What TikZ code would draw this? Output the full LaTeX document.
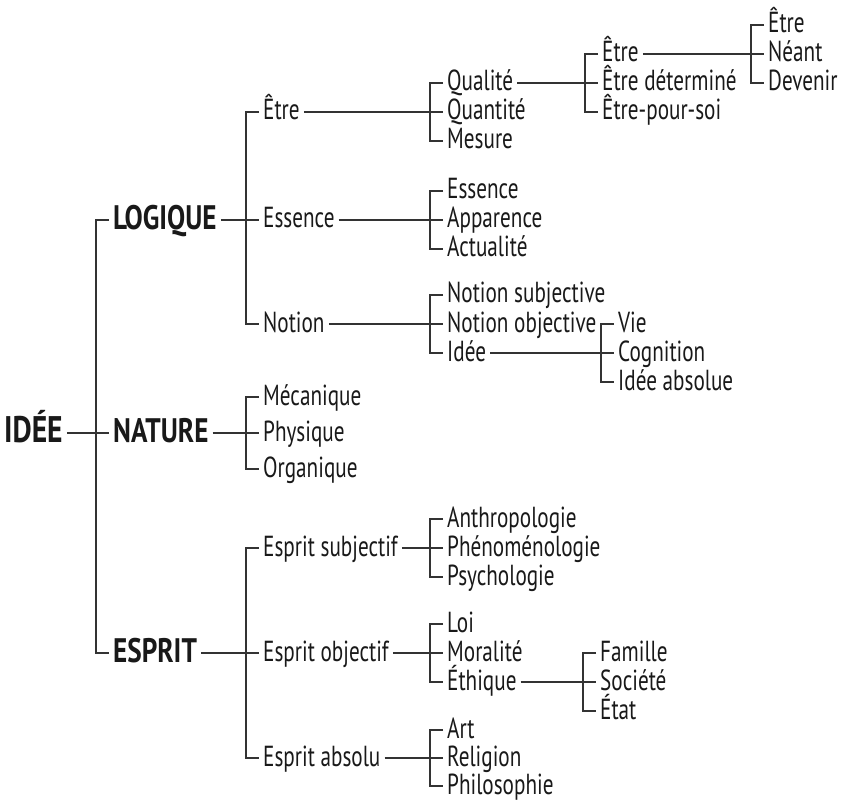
\documentclass[tikz,border=0pt]{standalone}
\usepackage{fontspec}
\setmainfont{PT Sans}[FakeStretch=0.73, BoldFeatures={FakeStretch=0.80}]
\usetikzlibrary{math}

\tikzset{
  leaf/.style={anchor=west, inner xsep=4pt, inner ysep=0pt, text height=20pt,
    text depth=4pt, text=black!90, font=\fontsize{29}{31}\selectfont},
  head/.style={leaf, text height=24pt, text depth=5pt, font=\bfseries\fontsize{34}{37}\selectfont},
  branch/.style={line width=1.3pt, draw=black!80},
}

\begin{document}
\begin{tikzpicture}[x=1pt, y=-1pt]

  \tikzmath{
    \tick = 13;  % length of bracket ticks
    \ca   = 0;   % column of the root
    \cb   = 109; % LOGIQUE, NATURE, ESPRIT
    \cc   = 259; % second level
    \cd   = 443; % third level
    \ce   = 598; % Etre, Etre determine, ...
    \cf   = 764; % Etre, Neant, Devenir
  }

  \useasboundingbox (0,0) rectangle (846,802);

  % root and first level
  \node[head, font=\bfseries\fontsize{37}{40}\selectfont] (idee) at (\ca,433) {IDÉE};
  \node[head] (logique) at (\cb,220) {LOGIQUE};
  \node[head] (nature)  at (\cb,433) {NATURE};
  \node[head] (esprit)  at (\cb,653) {ESPRIT};

  % LOGIQUE
  \node[leaf] (etre)    at (\cc,112) {Être};
  \node[leaf] (essence) at (\cc,220) {Essence};
  \node[leaf] (notion)  at (\cc,324) {Notion};

  \node[leaf] (qualite)  at (\cd,83)  {Qualité};
  \node[leaf] (quantite) at (\cd,112) {Quantité};
  \node[leaf] (mesure)   at (\cd,141) {Mesure};

  \node[leaf] (etreb)   at (\ce,54)  {Être};
  \node[leaf] (etredet) at (\ce,83)  {Être déterminé};
  \node[leaf] (etresoi) at (\ce,112) {Être-pour-soi};

  \node[leaf] (etrec)   at (\cf,25) {Être};
  \node[leaf] (neant)   at (\cf,54) {Néant};
  \node[leaf] (devenir) at (\cf,83) {Devenir};

  \node[leaf] (essenceb)  at (\cd,191) {Essence};
  \node[leaf] (apparence) at (\cd,220) {Apparence};
  \node[leaf] (actualite) at (\cd,249) {Actualité};

  \node[leaf] (nsubj) at (\cd,295) {Notion subjective};
  \node[leaf] (nobj)  at (\cd,324) {Notion objective};
  \node[leaf] (ideeb) at (\cd,353) {Idée};

  \node[leaf] (vie)       at (614,324) {Vie};
  \node[leaf] (cognition) at (614,353) {Cognition};
  \node[leaf] (absolue)   at (614,382) {Idée absolue};

  % NATURE
  \node[leaf] (mecanique) at (\cc,397) {Mécanique};
  \node[leaf] (physique)  at (\cc,433) {Physique};
  \node[leaf] (organique) at (\cc,469) {Organique};

  % ESPRIT
  \node[leaf] (esubj) at (\cc,548) {Esprit subjectif};
  \node[leaf] (eobj)  at (\cc,653) {Esprit objectif};
  \node[leaf] (eabs)  at (\cc,758) {Esprit absolu};

  \node[leaf] (anthropo) at (\cd,519) {Anthropologie};
  \node[leaf] (phenom)   at (\cd,548) {Phénoménologie};
  \node[leaf] (psycho)   at (\cd,577) {Psychologie};

  \node[leaf] (loi)      at (\cd,624) {Loi};
  \node[leaf] (moralite) at (\cd,653) {Moralité};
  \node[leaf] (ethique)  at (\cd,682) {Éthique};

  \node[leaf] (famille) at (596,653) {Famille};
  \node[leaf] (societe) at (596,682) {Société};
  \node[leaf] (etat)    at (596,711) {État};

  \node[leaf] (art)      at (\cd,730) {Art};
  \node[leaf] (religion) at (\cd,758) {Religion};
  \node[leaf] (philo)    at (\cd,786) {Philosophie};

  % brackets, each with the line coming from its parent
  \draw[branch] (logique.west) -- ++(-\tick,0) |- (esprit.west) (idee.east) -- (nature.west);
  \draw[branch] (etre.west) -- ++(-\tick,0) |- (notion.west) (logique.east) -- (essence.west);
  \draw[branch] (qualite.west) -- ++(-\tick,0) |- (mesure.west) (etre.east) -- (quantite.west);
  \draw[branch] (etreb.west) -- ++(-\tick,0) |- (etresoi.west) (qualite.east) -- (etredet.west);
  \draw[branch] (etrec.west) -- ++(-\tick,0) |- (devenir.west) (etreb.east) -- (neant.west);
  \draw[branch] (essenceb.west) -- ++(-\tick,0) |- (actualite.west) (essence.east) -- (apparence.west);
  \draw[branch] (nsubj.west) -- ++(-\tick,0) |- (ideeb.west) (notion.east) -- (nobj.west);
  \draw[branch] (vie.west) -- ++(-\tick,0) |- (absolue.west) (ideeb.east) -- (cognition.west);
  \draw[branch] (mecanique.west) -- ++(-\tick,0) |- (organique.west) (nature.east) -- (physique.west);
  \draw[branch] (esubj.west) -- ++(-\tick,0) |- (eabs.west) (esprit.east) -- (eobj.west);
  \draw[branch] (anthropo.west) -- ++(-\tick,0) |- (psycho.west) (esubj.east) -- (phenom.west);
  \draw[branch] (loi.west) -- ++(-\tick,0) |- (ethique.west) (eobj.east) -- (moralite.west);
  \draw[branch] (famille.west) -- ++(-\tick,0) |- (etat.west) (ethique.east) -- (societe.west);
  \draw[branch] (art.west) -- ++(-\tick,0) |- (philo.west) (eabs.east) -- (religion.west);

\end{tikzpicture}
\end{document}
